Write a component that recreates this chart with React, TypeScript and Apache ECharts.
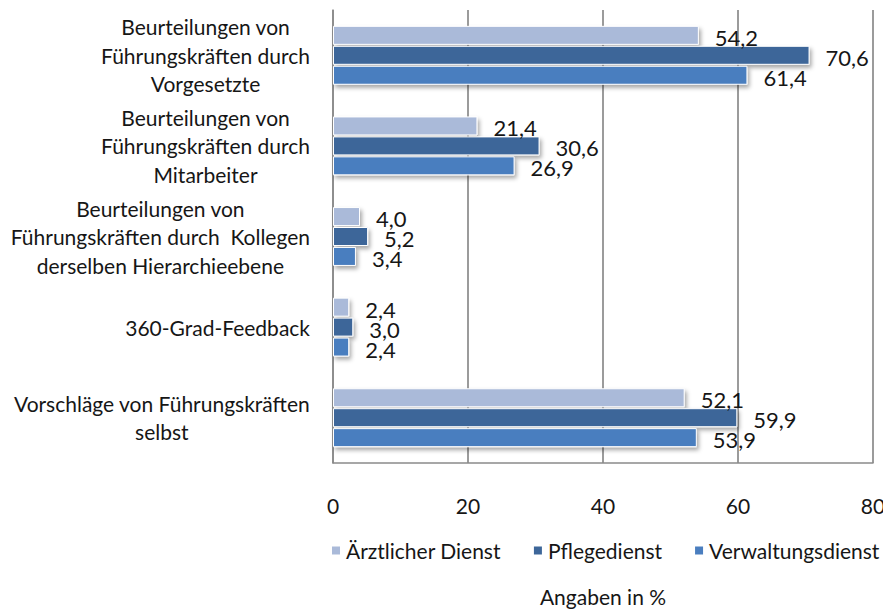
import React, { useEffect, useRef } from "react";
import * as echarts from "echarts";

const categories = [
  "Beurteilungen von\nFührungskräften durch\nVorgesetzte",
  "Beurteilungen von\nFührungskräften durch\nMitarbeiter",
  "Beurteilungen von\nFührungskräften durch  Kollegen\nderselben Hierarchieebene",
  "360-Grad-Feedback",
  "Vorschläge von Führungskräften\nselbst",
];
const seriesNames = ["Ärztlicher Dienst", "Pflegedienst", "Verwaltungsdienst"];
const aerztlich = [54.2, 21.4, 4.0, 2.4, 52.1];
const pflege = [70.6, 30.6, 5.2, 3.0, 59.9];
const verwaltung = [61.4, 26.9, 3.4, 2.4, 53.9];
const xTicks = [0, 20, 40, 60, 80];
const colors = ["#AABAD9", "#3D6699", "#4A7EBF"];

const FONT = "Lato";
const TXT = "#161616";

export default function App() {
  const ref = useRef<HTMLDivElement>(null);
  useEffect(() => {
    document.body.style.margin = "0";
    const chart = echarts.init(ref.current!, null, { renderer: "svg" });
    const mk = (name: string, data: number[], i: number) => ({
      name,
      type: "bar",
      data,
      barWidth: 19,
      barGap: "5%",
      itemStyle: {
        color: colors[i],
        borderColor: "#ffffff",
        borderWidth: 1,
        shadowColor: "rgba(0,0,0,0.35)",
        shadowBlur: 4,
        shadowOffsetX: 2,
        shadowOffsetY: 3,
      },
      label: {
        show: true,
        position: "right",
        distance: 16,
        offset: [0, 2],
        fontFamily: FONT,
        fontSize: 22,
        color: TXT,
        formatter: (p: any) => p.value.toFixed(1).replace(".", ","),
      },
    });
    chart.setOption({
      animation: false,
      textStyle: { fontFamily: FONT },
      grid: {
        left: 333,
        right: 10,
        top: 10,
        bottom: 147,
        outerBoundsMode: "none",
        containLabel: false,
      },
      legend: {
        data: seriesNames,
        left: 325,
        top: 535,
        width: 900,
        orient: "horizontal",
        icon: "rect",
        itemWidth: 10,
        itemHeight: 10,
        itemGap: 31,
        textStyle: { fontFamily: FONT, fontSize: 21, color: TXT },
      },
      xAxis: {
        type: "value",
        min: 0,
        max: 80,
        interval: 20,
        name: "Angaben in %",
        nameLocation: "middle",
        nameGap: 123,
        nameTextStyle: { fontFamily: FONT, fontSize: 21, color: TXT },
        axisLine: { show: true, lineStyle: { color: "#8a8a8a", width: 1.5 } },
        axisTick: { show: false },
        splitLine: { show: true, lineStyle: { color: "#7a7a7a", width: 1.5 } },
        axisLabel: {
          margin: 32,
          fontFamily: FONT,
          fontSize: 21,
          color: TXT,
          formatter: (v: number) => (xTicks.includes(v) ? String(v) : ""),
        },
      },
      yAxis: {
        type: "category",
        inverse: true,
        data: categories,
        axisLine: { show: true, lineStyle: { color: "#8a8a8a", width: 1.5 } },
        axisTick: { show: false },
        axisLabel: {
          margin: 23,
          align: "right",
          formatter: (v: string) =>
            v.split("\n").map((l) => `{c|${l}}`).join("\n"),
          rich: {
            c: {
              align: "center",
              fontFamily: FONT,
              fontSize: 21,
              lineHeight: 28.5,
              color: TXT,
            },
          },
        },
      },
      series: [
        mk(seriesNames[0], aerztlich, 0),
        mk(seriesNames[1], pflege, 1),
        mk(seriesNames[2], verwaltung, 2),
      ],
    });
    return () => chart.dispose();
  }, []);
  return <div ref={ref} style={{ width: 883, height: 610 }} />;
}
